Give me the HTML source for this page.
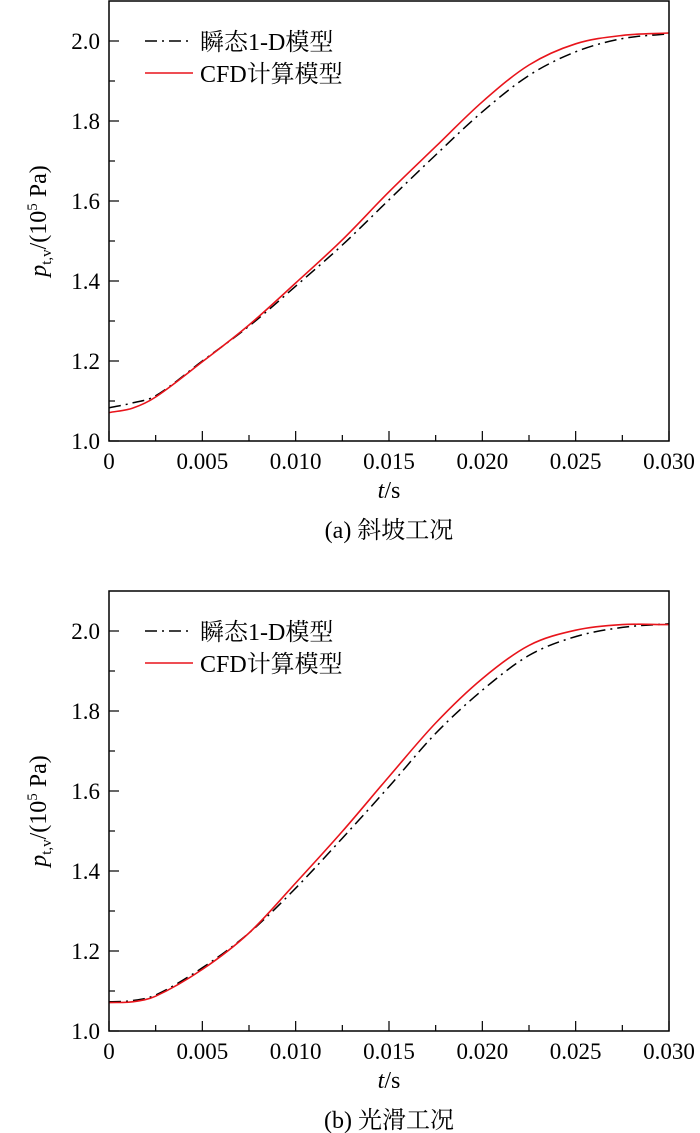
<!DOCTYPE html>
<html><head><meta charset="utf-8"><style>
body{margin:0;background:#fff;}
svg{display:block;font-family:"Liberation Serif","Noto Serif CJK SC",serif;}
</style></head><body>
<svg id="c" width="700" height="1133" viewBox="0 0 700 1133" xmlns="http://www.w3.org/2000/svg"></svg>
<script>
const tVals=[0,0.00125,0.0025,0.005,0.0075,0.010,0.0125,0.015,0.0175,0.020,0.0225,0.025,0.0275,0.030];
const aOneD=[1.083,1.095,1.113,1.20,1.287,1.387,1.49,1.603,1.715,1.823,1.914,1.973,2.006,2.018];
const aCFD=[1.071,1.082,1.11,1.198,1.29,1.395,1.503,1.623,1.736,1.848,1.94,1.993,2.014,2.02];
const bOneD=[1.073,1.076,1.09,1.158,1.245,1.357,1.482,1.611,1.744,1.852,1.939,1.986,2.009,2.018];
const bCFD=[1.071,1.073,1.087,1.154,1.245,1.37,1.499,1.636,1.77,1.881,1.964,2.002,2.016,2.016];
const xTickLabels=["0","0.005","0.010","0.015","0.020","0.025","0.030"];
const yTickLabels=["1.0","1.2","1.4","1.6","1.8","2.0"];
const legendLabels=["瞬态1-D模型","CFD计算模型"];
const captions=["(a) 斜坡工况","(b) 光滑工况"];

const NS="http://www.w3.org/2000/svg";
const svg=document.getElementById('c');
function mk(tag,attrs,parent){const e=document.createElementNS(NS,tag);for(const k in attrs)e.setAttribute(k,attrs[k]);(parent||svg).appendChild(e);return e;}

function panel(top,oneD,cfd,caption,key){
  const L=109,R=669,T=top,B=top+440;
  const g=mk('g',{});
  
  
  const xs=t=>L+(t/0.030)*(R-L);
  const ys=v=>B-(v-1.0)/1.1*(B-T);
  for(let i=0;i<=12;i++){
    const x=xs(i*0.0025),len=i%2==0?10:6;
    const tk=mk('line',{x1:x,y1:B,x2:x,y2:B-len,stroke:'#000','stroke-width':1.2},g);
    
    
  }
  for(let i=0;i<=10;i++){
    const y=ys(1.0+i*0.1),len=i%2==0?10:6;
    const tk=mk('line',{x1:L,y1:y,x2:L+len,y2:y,stroke:'#000','stroke-width':1.2},g);
    
    
  }
  xTickLabels.forEach((s,i)=>{
    const tx=mk('text',{x:xs(i*0.005),y:B+28,'text-anchor':'middle','font-size':23},g);
    tx.textContent=s;
    
    
  });
  yTickLabels.forEach((s,i)=>{
    const tx=mk('text',{x:L-9,y:ys(1.0+i*0.2)+8,'text-anchor':'end','font-size':23},g);
    tx.textContent=s;
    
    
  });
  function path(vals){
    const p=tVals.map((t,i)=>[xs(t),ys(vals[i])]);
    let d='M'+p[0][0]+','+p[0][1];
    for(let i=0;i<p.length-1;i++){
      const p0=p[Math.max(0,i-1)],p1=p[i],p2=p[i+1],p3=p[Math.min(p.length-1,i+2)];
      const h=p2[0]-p1[0];
      const s1=(p2[1]-p0[1])/(p2[0]-p0[0]||1),s2=(p3[1]-p1[1])/(p3[0]-p1[0]||1);
      const c1=[p1[0]+h/3,p1[1]+s1*h/3];
      const c2=[p2[0]-h/3,p2[1]-s2*h/3];
      d+=' C'+c1[0]+','+c1[1]+' '+c2[0]+','+c2[1]+' '+p2[0]+','+p2[1];
    }
    return d;
  }
  const l1=mk('path',{d:path(oneD),fill:'none',stroke:'#000','stroke-width':1.5,'stroke-dasharray':'12,5,2,5'},g);
  
  
  const l2=mk('path',{d:path(cfd),fill:'none',stroke:'#e8141b','stroke-width':1.6},g);
  
  
  const fr=mk('rect',{x:L,y:T,width:R-L,height:B-T,fill:'none',stroke:'#000','stroke-width':1.5},g);
  
  
  const lg=mk('g',{},g);
  
  
  const ly1=T+40,ly2=T+72;
  mk('line',{x1:145,y1:ly1,x2:193,y2:ly1,stroke:'#000','stroke-width':1.5,'stroke-dasharray':'12,5,2,5'},lg);
  mk('line',{x1:145,y1:ly2,x2:193,y2:ly2,stroke:'#e8141b','stroke-width':1.6},lg);
  const e1=mk('text',{x:200,y:ly1+9,'font-size':24},lg);e1.textContent=legendLabels[0];
  
  
  const e2=mk('text',{x:200,y:ly2+9,'font-size':24},lg);e2.textContent=legendLabels[1];
  
  
  const xt=mk('text',{x:(L+R)/2,y:B+57,'text-anchor':'middle','font-size':24},g);
  xt.innerHTML='<tspan font-style="italic">t</tspan>/s';
  
  
  const yt=mk('text',{transform:'translate(46,'+(T+220)+') rotate(-90)','text-anchor':'middle','font-size':24},g);
  yt.innerHTML='<tspan font-style="italic">p</tspan><tspan font-size="15" dy="5">t,v</tspan><tspan dy="-5">/(10</tspan><tspan font-size="15" dy="-9">5</tspan><tspan dy="9"> Pa)</tspan>';
  
  
  const cp=mk('text',{x:(L+R)/2,y:B+97,'text-anchor':'middle','font-size':24},g);
  cp.textContent=caption;
  
  
}
panel(1,aOneD,aCFD,captions[0],'a');
panel(591,bOneD,bCFD,captions[1],'b');
</script>
</body></html>
